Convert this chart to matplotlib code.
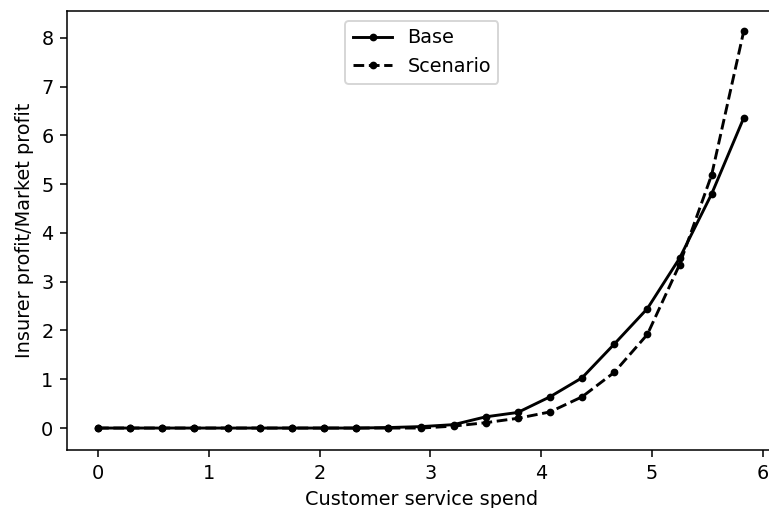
import matplotlib
matplotlib.use("Agg")
import matplotlib.pyplot as plt

spend = [0.0, 0.29, 0.58, 0.87, 1.17, 1.46, 1.75, 2.04, 2.33, 2.62, 2.92,
         3.21, 3.50, 3.79, 4.08, 4.37, 4.66, 4.96, 5.25, 5.54, 5.83]
base = [0.0, 0.0, 0.0, 0.0, 0.0, 0.0, 0.0, 0.0, 0.0, 0.01, 0.03,
        0.07, 0.23, 0.32, 0.64, 1.03, 1.72, 2.45, 3.48, 4.8, 6.36]
scenario = [0.0, 0.0, 0.0, 0.0, 0.0, 0.0, 0.0, 0.0, 0.0, 0.0, 0.0,
            0.04, 0.11, 0.2, 0.33, 0.64, 1.14, 1.92, 3.35, 5.19, 8.14]

# the reference looks like a 72 dpi render scaled up, so draw at a higher dpi
dpi = 139
fig = plt.figure(figsize=(769 / dpi, 508 / dpi), dpi=dpi)
ax = fig.add_axes([67 / 769, 58 / 508, 710 / 769, 439 / 508])

ax.plot(spend, base, "k.-", label="Base")
ax.plot(spend, scenario, "k.--", label="Scenario")
ax.set_xlabel("Customer service spend")
ax.set_ylabel("Insurer profit/Market profit")
ax.set_xlim(-0.28, 6.13)
ax.set_ylim(-0.45, 8.55)
ax.legend(loc="upper center")

fig.savefig("out.png", dpi=dpi)
